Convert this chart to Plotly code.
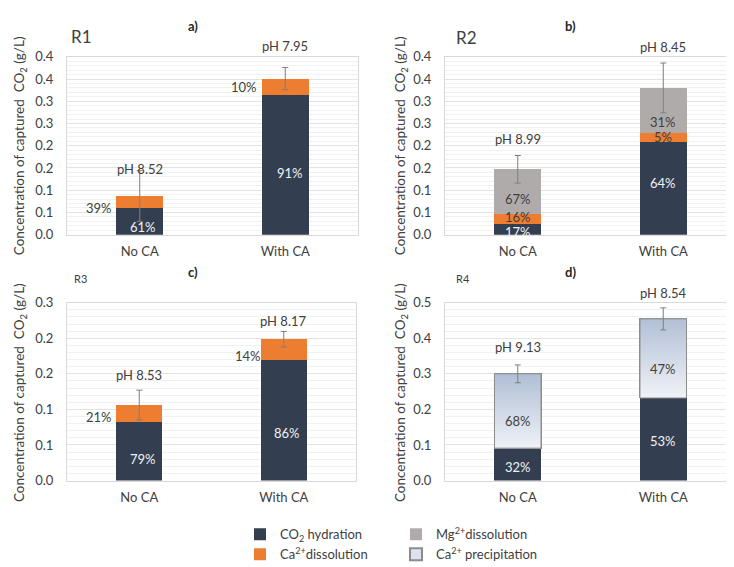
import plotly.graph_objects as go

# ---------------- data ----------------
categories = ["No CA", "With CA"]

# R1
r1_hydration = [0.060, 0.315]
r1_ca_diss = [0.027, 0.036]
r1_err = [0.057, 0.025]
r1_ph = ["pH 8.52", "pH 7.95"]

# R2
r2_hydration = [0.024, 0.2095]
r2_ca_diss = [0.0225, 0.0185]
r2_mg_diss = [0.1005, 0.102]
r2_err = [0.031, 0.056]
r2_ph = ["pH 8.99", "pH 8.45"]

# R3
r3_hydration = [0.082, 0.170]
r3_ca_diss = [0.024, 0.0286]
r3_err = [0.021, 0.011]
r3_ph = ["pH 8.53", "pH 8.17"]

# R4
r4_hydration = [0.091, 0.232]
r4_ca_prec = [0.209, 0.2225]
r4_err = [0.025, 0.031]
r4_ph = ["pH 9.13", "pH 8.54"]

# percent labels
r1_pct_hyd = ["61%", "91%"]
r1_pct_ca = ["39%", "10%"]
r2_pct_hyd = ["17%", "64%"]
r2_pct_ca = ["16%", "5%"]
r2_pct_mg = ["67%", "31%"]
r3_pct_hyd = ["79%", "86%"]
r3_pct_ca = ["21%", "14%"]
r4_pct_hyd = ["32%", "53%"]
r4_pct_prec = ["68%", "47%"]

# tick labels
tick_vals_04 = [0, 0.05, 0.1, 0.15, 0.2, 0.25, 0.3, 0.35, 0.4]
tick_text_04 = ["0.0", "0.1", "0.1", "0.2", "0.2", "0.3", "0.3", "0.4", "0.4"]
tick_vals_025 = [0, 0.05, 0.1, 0.15, 0.2, 0.25]
tick_text_025 = ["0.0", "0.1", "0.1", "0.2", "0.2", "0.3"]
tick_vals_05 = [0, 0.1, 0.2, 0.3, 0.4, 0.5]
tick_text_05 = ["0.0", "0.1", "0.2", "0.3", "0.4", "0.5"]

# ---------------- style ----------------
FONT = "Lato, 'Open Sans', sans-serif"
TXT = "#404040"
C_HYD = "#333f50"
C_CA = "#ed7d31"
C_MG = "#afabab"
C_PREC = "#dde3ee"
BAR_W = 0.32
xpos = [0, 1]

W, H = 734, 567
def px_x(p):
    return p / W
def px_y(p):
    return 1 - p / H

panels = {
    1: dict(x=(59, 350), y=(42, 225)),
    2: dict(x=(437, 728), y=(42, 225)),
    3: dict(x=(59, 348), y=(295, 478)),
    4: dict(x=(437, 728), y=(295, 478)),
}

fig = go.Figure()

def ax(n):
    return ("x" if n == 1 else f"x{n}"), ("y" if n == 1 else f"y{n}")

def add_bar(n, vals, name, color, show, legend, line=None):
    xa, ya = ax(n)
    fig.add_trace(go.Bar(
        x=xpos, y=vals, width=BAR_W, name=name, xaxis=xa, yaxis=ya,
        marker=dict(color=color, line=dict(color=line or color, width=1 if line else 0)),
        showlegend=show, legend=legend, hoverinfo="skip",
    ))

def add_err(n, totals, errs):
    xa, ya = ax(n)
    fig.add_trace(go.Scatter(
        x=xpos, y=totals, mode="markers", xaxis=xa, yaxis=ya,
        marker=dict(size=1, opacity=0), showlegend=False, hoverinfo="skip",
        error_y=dict(type="data", array=errs, color="#7f7f7f", thickness=1, width=3),
    ))

def sums(*lists):
    return [sum(v) for v in zip(*lists)]

# R1
add_bar(1, r1_hydration, "CO<sub>2</sub> hydration", C_HYD, True, "legend")
add_bar(1, r1_ca_diss, "Ca<sup>2+</sup>dissolution", C_CA, True, "legend")
# R2
add_bar(2, r2_hydration, "CO2 hydration", C_HYD, False, "legend")
add_bar(2, r2_ca_diss, "Ca diss", C_CA, False, "legend")
add_bar(2, r2_mg_diss, "Mg<sup>2+</sup>dissolution", C_MG, True, "legend2")
# R3
add_bar(3, r3_hydration, "CO2 hydration", C_HYD, False, "legend")
add_bar(3, r3_ca_diss, "Ca diss", C_CA, False, "legend")
# R4
add_bar(4, r4_hydration, "CO2 hydration", C_HYD, False, "legend")
add_bar(4, r4_ca_prec, "Ca<sup>2+</sup> precipitation", C_PREC, True, "legend2", line="#8c8c8c")

# gradient overlay for precipitation segments
for i in range(len(xpos)):
    base = r4_hydration[i]
    top = base + r4_ca_prec[i]
    x0, x1 = xpos[i] - BAR_W / 2, xpos[i] + BAR_W / 2
    fig.add_trace(go.Scatter(
        x=[x0, x1, x1, x0, x0], y=[base, base, top, top, base],
        xaxis="x4", yaxis="y4", mode="lines", fill="toself",
        line=dict(color="#8c8c8c", width=1),
        fillgradient=dict(type="vertical", start=base, stop=top,
                          colorscale=[[0, "#f2f4f8"], [1, "#b2c0d6"]]),
        showlegend=False, hoverinfo="skip",
    ))

r1_tot = sums(r1_hydration, r1_ca_diss)
r2_tot = sums(r2_hydration, r2_ca_diss, r2_mg_diss)
r3_tot = sums(r3_hydration, r3_ca_diss)
r4_tot = sums(r4_hydration, r4_ca_prec)
add_err(1, r1_tot, r1_err)
add_err(2, r2_tot, r2_err)
add_err(3, r3_tot, r3_err)
add_err(4, r4_tot, r4_err)

layout = dict(
    width=W, height=H, margin=dict(l=0, r=0, t=0, b=0),
    paper_bgcolor="white", plot_bgcolor="white", barmode="stack",
    font=dict(family=FONT, size=13, color=TXT),
)

yranges = {1: 0.4, 2: 0.4, 3: 0.25, 4: 0.5}
yticks = {1: (tick_vals_04, tick_text_04), 2: (tick_vals_04, tick_text_04),
          3: (tick_vals_025, tick_text_025), 4: (tick_vals_05, tick_text_05)}
minor_dt = {1: 0.01, 2: 0.01, 3: 0.01, 4: 0.02}

for n, p in panels.items():
    xk = "xaxis" if n == 1 else f"xaxis{n}"
    yk = "yaxis" if n == 1 else f"yaxis{n}"
    xa, ya = ax(n)
    layout[xk] = dict(
        domain=[px_x(p["x"][0]), px_x(p["x"][1])], anchor=ya, range=[-0.5, 1.5],
        tickvals=xpos, ticktext=categories, showgrid=False, zeroline=False,
        showline=True, mirror=True, linecolor="#d9d9d9", linewidth=1,
        ticks="outside", ticklen=5, tickcolor="rgba(0,0,0,0)",
        tickfont=dict(size=13, color=TXT), fixedrange=True,
    )
    tv, tt = yticks[n]
    layout[yk] = dict(
        domain=[px_y(p["y"][1]), px_y(p["y"][0])], anchor=xa, range=[0, yranges[n]],
        tickvals=tv, ticktext=tt, showgrid=True, gridcolor="#e3e3e3", gridwidth=1,
        minor=dict(dtick=minor_dt[n], showgrid=True, gridcolor="#f1f1f1", gridwidth=1),
        zeroline=False, showline=True, mirror=True, linecolor="#d9d9d9", linewidth=1,
        ticks="outside", ticklen=10, tickcolor="rgba(0,0,0,0)",
        tickfont=dict(size=13, color=TXT), fixedrange=True,
    )

annotations = []

# panel letters and R labels
def paper_text(text, x, y, size, bold=False, xanchor="center"):
    annotations.append(dict(
        text=f"<b>{text}</b>" if bold else text, xref="paper", yref="paper",
        x=px_x(x), y=px_y(y), xanchor=xanchor, yanchor="middle", showarrow=False,
        font=dict(size=size, color="#262626" if bold else TXT),
    ))

paper_text("a)", 185, 10, 13, bold=True)
paper_text("b)", 562, 10, 13, bold=True)
paper_text("c)", 185, 263, 13, bold=True)
paper_text("d)", 562, 263, 13, bold=True)
paper_text("R1", 61, 21, 17, xanchor="left")
paper_text("R2", 446, 22, 17, xanchor="left")
paper_text("R3", 64, 270, 11, xanchor="left")
paper_text("R4", 446, 270, 11, xanchor="left")

# y-axis titles
ytitle = "Concentration of captured  CO<sub>2</sub> (g/L)"
for xc, yc in [(12, 134), (393, 134), (12, 388), (393, 388)]:
    annotations.append(dict(
        text=ytitle, xref="paper", yref="paper", x=px_x(xc), y=px_y(yc),
        xanchor="center", yanchor="middle", textangle=-90, showarrow=False,
        font=dict(size=13.5, color=TXT),
    ))

# pH labels (offset above error-bar top, px)
ph_shift = {1: [2, 21], 2: [17, 16], 3: [15, 10], 4: [18, 15]}
for n, tots, errs, labels in [(1, r1_tot, r1_err, r1_ph), (2, r2_tot, r2_err, r2_ph),
                              (3, r3_tot, r3_err, r3_ph), (4, r4_tot, r4_err, r4_ph)]:
    xa, ya = ax(n)
    for i in range(2):
        annotations.append(dict(
            text=labels[i], xref=xa, yref=ya, x=xpos[i], y=tots[i] + errs[i],
            xanchor="center", yanchor="middle", yshift=ph_shift[n][i], showarrow=False,
            font=dict(size=13, color=TXT),
        ))

def seg_label(n, i, text, lo, hi, color, yshift=0, left=False, xshift=0):
    xa, ya = ax(n)
    annotations.append(dict(
        text=text, xref=xa, yref=ya,
        x=(xpos[i] - BAR_W / 2) if left else xpos[i], y=(lo + hi) / 2,
        xanchor="right" if left else "center", yanchor="middle",
        xshift=xshift, yshift=yshift, showarrow=False,
        font=dict(size=13, color=color),
    ))

W_T = "#f2f2f2"
# R1
seg_label(1, 0, r1_pct_hyd[0], 0, r1_hydration[0], W_T, yshift=-6, xshift=3)
seg_label(1, 1, r1_pct_hyd[1], 0, r1_hydration[1], W_T, yshift=-8, xshift=5)
seg_label(1, 0, r1_pct_ca[0], r1_hydration[0], r1_hydration[0], TXT, left=True, xshift=-2)
seg_label(1, 1, r1_pct_ca[1], r1_hydration[1], r1_tot[1], TXT, left=True, xshift=-3)
# R2
for i in range(2):
    h = r2_hydration[i]; c = h + r2_ca_diss[i]; t = r2_tot[i]
    seg_label(2, i, r2_pct_hyd[i], 0, h, W_T, yshift=[-3, 5][i])
    seg_label(2, i, r2_pct_ca[i], h, c, TXT, yshift=[2, 0][i])
    seg_label(2, i, r2_pct_mg[i], c, t, TXT, yshift=[-7, -11][i])
# R3
seg_label(3, 0, r3_pct_hyd[0], 0, r3_hydration[0], W_T, yshift=-8, xshift=4)
seg_label(3, 1, r3_pct_hyd[1], 0, r3_hydration[1], W_T, yshift=-13, xshift=3)
seg_label(3, 0, r3_pct_ca[0], r3_hydration[0], r3_tot[0], TXT, left=True, xshift=-2, yshift=-3)
seg_label(3, 1, r3_pct_ca[1], r3_hydration[1], r3_tot[1], TXT, left=True, xshift=2, yshift=-7)
# R4
for i in range(2):
    h = r4_hydration[i]; t = r4_tot[i]
    seg_label(4, i, r4_pct_hyd[i], 0, h, W_T, yshift=[-3, -2][i])
    seg_label(4, i, r4_pct_prec[i], h, t, TXT, yshift=[-10, -11][i])

layout["annotations"] = annotations

legend_common = dict(
    xanchor="left", yanchor="top", orientation="v", traceorder="normal",
    font=dict(size=13, color=TXT), bgcolor="rgba(0,0,0,0)", tracegroupgap=0,
    itemsizing="constant",
)
layout["legend"] = dict(x=px_x(232), y=px_y(518), **legend_common)
layout["legend2"] = dict(x=px_x(388), y=px_y(518), **legend_common)

fig.update_layout(**layout)
fig.write_html("out.html")
